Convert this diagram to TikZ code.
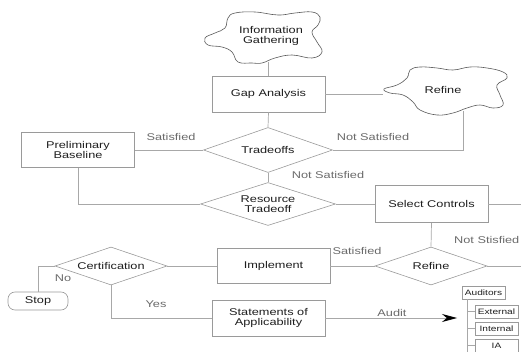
\documentclass[tikz,border=0pt]{standalone}
\usepackage{fontspec}
\setmainfont{Liberation Sans}[FakeStretch=1.3]
\usepackage{tikz}
\usetikzlibrary{shapes.geometric,arrows.meta,calc}
\definecolor{linegray}{HTML}{A8A8A8}
\definecolor{boxgray}{HTML}{9A9A9A}
\definecolor{textgray}{HTML}{1E1E1E}
\definecolor{labelgray}{HTML}{6A6A6A}
\tikzstyle{link} = [draw=linegray,line width=0.7pt]
\tikzstyle{auditarrow} = [link,-{Stealth[length=15pt,width=8pt,color=black]}]

\begin{document}
\begin{tikzpicture}
[x=1pt,y=-1pt,font=\fontsize{9.8}{10.5}\selectfont,text=textgray,
procbox/.style={rectangle,draw=boxgray,line width=0.6pt,minimum width=113pt,minimum height=36pt,align=center},
choicebox/.style={diamond,aspect=3,draw=boxgray,line width=0.6pt,inner sep=1pt,minimum width=112pt,minimum height=38pt,align=center},
stopbox/.style={rectangle,rounded corners=7pt,draw=boxgray,line width=0.6pt,minimum width=60pt,minimum height=18pt},
cloudbox/.style={align=center,inner sep=0pt},
cloudline/.style={draw=black!65,line width=0.6pt},
tinybox/.style={rectangle,draw=boxgray,line width=0.5pt,font=\fontsize{7.8}{9}\selectfont,minimum width=43pt,minimum height=12.5pt,inner sep=1pt},
edgelabel/.style={text=labelgray}]
\useasboundingbox (0,0) rectangle (521,352);

% top of the chart
\node[cloudbox,minimum width=118pt,minimum height=52pt] (info) at (271,36) {Information\\Gathering};
\draw[cloudline] plot[smooth cycle,tension=0.7] coordinates {(205,38) (215,33) (225,28) (228,18) (235,13) (255,12) (278,15) (295,13) (312,12) (320,17) (318,25) (312,32) (317,42) (322,52) (312,58) (292,55) (275,58) (262,63) (252,63) (238,62) (232,52) (222,47) (208,45)};
\node[procbox] (gap) at (268.5,94) {Gap Analysis};
\node[cloudbox,minimum width=120pt,minimum height=42pt] (refcloud) at (443,90) {Refine};
\draw[cloudline] plot[smooth cycle,tension=0.7] coordinates {(384,89) (397,85) (407,78) (410,70) (420,67) (437,68) (453,70) (470,67) (487,68) (503,72) (507,78) (497,85) (500,95) (503,105) (493,108) (480,105) (467,108) (453,113) (437,115) (420,110) (413,102) (403,95) (390,93)};
\node[procbox,minimum height=35pt] (prelim) at (78,150) {Preliminary\\Baseline};
\node[choicebox,minimum width=129pt,minimum height=45pt] (trade) at (268,150) {Tradeoffs};
\node[choicebox,minimum width=135pt,minimum height=43pt] (restrade) at (268,204) {Resource\\Tradeoff};
\node[procbox,minimum height=37pt] (select) at (431.5,204) {Select Controls};

% bottom of the chart
\node[choicebox] (refine) at (431,266) {Refine};
\node[procbox,minimum height=35pt] (implement) at (273.5,266) {Implement};
\node[choicebox] (cert) at (111,266) {Certification};
\node[stopbox] (stop) at (38,301) {Stop};
\node[procbox] (soa) at (268.5,318) {Statements of\\Applicability};
\node[tinybox] (auditors) at (483.5,292.5) {Auditors};
\node[tinybox] (external) at (496.5,311.5) {External};
\node[tinybox] (internal) at (496.5,328.5) {Internal};
\node[tinybox] (ia) at (496.5,345.5) {IA};

\coordinate (edgeA) at (521,204);
\coordinate (edgeB) at (521,266);
\coordinate (auditend) at (457,318);
\coordinate (treeend) at (467,352);

\draw[link] (info.south -| gap.north) -- (gap.north);
\draw[link] (gap.east) -- (gap.east -| refcloud.west);
\draw[link] (gap.south) -- (trade.north);
\draw[link] (prelim.east) -- (trade.west);
\draw[link] (trade.east) -| ([xshift=20pt]refcloud.south);
\draw[link] (trade.south) -- (restrade.north);
\draw[link] (prelim.south) |- (restrade.west);
\draw[link] (restrade.east) -- (select.west);
\draw[link] (select.east) -- (edgeA);
\draw[link] (select.south) -- (refine.north);
\draw[link] (refine.east) -- (edgeB);
\draw[link] (refine.west) -- (implement.east);
\draw[link] (implement.west) -- (cert.east);
\draw[link] (cert.west) -| (stop.north);
\draw[link] (cert.south) |- (soa.west);
\draw[auditarrow] (soa.east) -- (auditend);
\draw[link] (auditors.south -| treeend) -- (treeend);
\foreach \leaf in {external,internal,ia}
  \draw[link] (\leaf.west -| treeend) -- (\leaf.west);

% labels on the lines
\node[edgelabel] (satA) at (171,137) {Satisfied};
\node[edgelabel] (notsatA) at (373,137) {Not Satisfied};
\node[edgelabel] (notsatB) at (328,175) {Not Satisfied};
\node[edgelabel,anchor=east,inner sep=1pt] (notsatC) at (520.5,240) {Not Stisfied};
\node[edgelabel] (satB) at (357,251) {Satisfied};
\node[edgelabel] (no) at (63,278) {No};
\node[edgelabel] (yes) at (156,304) {Yes};
\node[edgelabel] (audit) at (392,313) {Audit};
\end{tikzpicture}
\end{document}
